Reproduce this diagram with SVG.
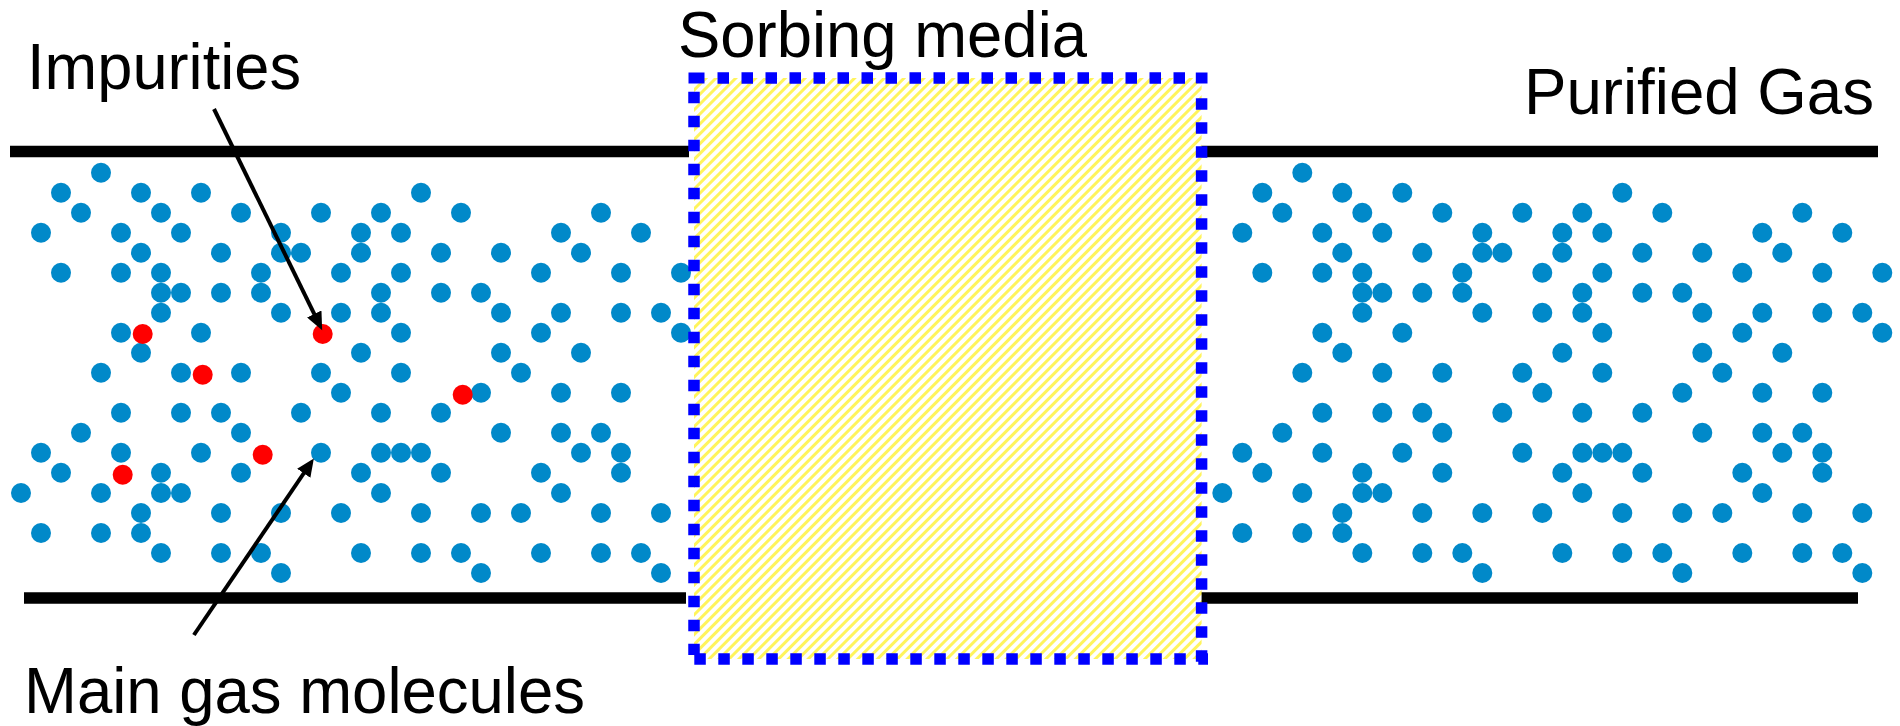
<svg xmlns="http://www.w3.org/2000/svg" width="1900" height="726" viewBox="0 0 1900 726">
  <defs>
    <style>
      .lbl { font-family: "Liberation Sans", Arial, sans-serif; font-size: 64px; fill: #000; }
      .wall { stroke: #000; stroke-width: 11.5; fill: none; }
      .mol { fill: #0189c9; }
      .imp { fill: #ff0000; }
      .edge { stroke: #0000ff; stroke-width: 11.5; stroke-dasharray: 11.5 12.5; fill: none; }
      .corner { fill: #0000ff; }
      .ptr { stroke: #000; stroke-width: 4; fill: none; marker-end: url(#head); }
    </style>
    <!-- diagonal yellow hatching of the sorbent bed -->
    <pattern id="hatch" width="7" height="7" patternUnits="userSpaceOnUse" patternTransform="rotate(45)">
      <rect width="7" height="7" fill="#ffffff"/>
      <rect width="3" height="7" fill="#fff45c"/>
    </pattern>
    <marker id="head" markerUnits="userSpaceOnUse" markerWidth="20" markerHeight="16" refX="1" refY="8" orient="auto" viewBox="0 0 20 16">
      <path d="M0,0 L18,8 L0,16 z" fill="#000"/>
    </marker>
  </defs>

  <rect width="1900" height="726" fill="#ffffff"/>

  <!-- pipe walls -->
  <g id="pipe-walls">
    <line class="wall" x1="10" y1="151.5" x2="689" y2="151.5"/>
    <line class="wall" x1="24" y1="598" x2="686" y2="598"/>
    <line class="wall" x1="1199" y1="151.5" x2="1878" y2="151.5"/>
    <line class="wall" x1="1198" y1="598" x2="1858" y2="598"/>
  </g>

  <!-- main gas molecules entering -->
  <g id="gas-inlet">
    <circle class="mol" r="10" cx="101" cy="172.7"/>
    <circle class="mol" r="10" cx="61" cy="192.7"/><circle class="mol" r="10" cx="141" cy="192.7"/><circle class="mol" r="10" cx="201" cy="192.7"/><circle class="mol" r="10" cx="421" cy="192.7"/>
    <circle class="mol" r="10" cx="81" cy="212.7"/><circle class="mol" r="10" cx="161" cy="212.7"/><circle class="mol" r="10" cx="241" cy="212.7"/><circle class="mol" r="10" cx="321" cy="212.7"/><circle class="mol" r="10" cx="381" cy="212.7"/><circle class="mol" r="10" cx="461" cy="212.7"/><circle class="mol" r="10" cx="601" cy="212.7"/>
    <circle class="mol" r="10" cx="41" cy="232.7"/><circle class="mol" r="10" cx="121" cy="232.7"/><circle class="mol" r="10" cx="181" cy="232.7"/><circle class="mol" r="10" cx="281" cy="232.7"/><circle class="mol" r="10" cx="361" cy="232.7"/><circle class="mol" r="10" cx="401" cy="232.7"/><circle class="mol" r="10" cx="561" cy="232.7"/><circle class="mol" r="10" cx="641" cy="232.7"/>
    <circle class="mol" r="10" cx="141" cy="252.7"/><circle class="mol" r="10" cx="221" cy="252.7"/><circle class="mol" r="10" cx="281" cy="252.7"/><circle class="mol" r="10" cx="301" cy="252.7"/><circle class="mol" r="10" cx="361" cy="252.7"/><circle class="mol" r="10" cx="441" cy="252.7"/><circle class="mol" r="10" cx="501" cy="252.7"/><circle class="mol" r="10" cx="581" cy="252.7"/>
    <circle class="mol" r="10" cx="61" cy="272.7"/><circle class="mol" r="10" cx="121" cy="272.7"/><circle class="mol" r="10" cx="161" cy="272.7"/><circle class="mol" r="10" cx="261" cy="272.7"/><circle class="mol" r="10" cx="341" cy="272.7"/><circle class="mol" r="10" cx="401" cy="272.7"/><circle class="mol" r="10" cx="541" cy="272.7"/><circle class="mol" r="10" cx="621" cy="272.7"/><circle class="mol" r="10" cx="681" cy="272.7"/>
    <circle class="mol" r="10" cx="161" cy="292.7"/><circle class="mol" r="10" cx="181" cy="292.7"/><circle class="mol" r="10" cx="221" cy="292.7"/><circle class="mol" r="10" cx="261" cy="292.7"/><circle class="mol" r="10" cx="381" cy="292.7"/><circle class="mol" r="10" cx="441" cy="292.7"/><circle class="mol" r="10" cx="481" cy="292.7"/>
    <circle class="mol" r="10" cx="161" cy="312.7"/><circle class="mol" r="10" cx="281" cy="312.7"/><circle class="mol" r="10" cx="341" cy="312.7"/><circle class="mol" r="10" cx="381" cy="312.7"/><circle class="mol" r="10" cx="501" cy="312.7"/><circle class="mol" r="10" cx="561" cy="312.7"/><circle class="mol" r="10" cx="621" cy="312.7"/><circle class="mol" r="10" cx="661" cy="312.7"/>
    <circle class="mol" r="10" cx="121" cy="332.7"/><circle class="mol" r="10" cx="201" cy="332.7"/><circle class="mol" r="10" cx="401" cy="332.7"/><circle class="mol" r="10" cx="541" cy="332.7"/><circle class="mol" r="10" cx="681" cy="332.7"/>
    <circle class="mol" r="10" cx="141" cy="352.7"/><circle class="mol" r="10" cx="361" cy="352.7"/><circle class="mol" r="10" cx="501" cy="352.7"/><circle class="mol" r="10" cx="581" cy="352.7"/>
    <circle class="mol" r="10" cx="101" cy="372.7"/><circle class="mol" r="10" cx="181" cy="372.7"/><circle class="mol" r="10" cx="241" cy="372.7"/><circle class="mol" r="10" cx="321" cy="372.7"/><circle class="mol" r="10" cx="401" cy="372.7"/><circle class="mol" r="10" cx="521" cy="372.7"/>
    <circle class="mol" r="10" cx="341" cy="392.7"/><circle class="mol" r="10" cx="481" cy="392.7"/><circle class="mol" r="10" cx="561" cy="392.7"/><circle class="mol" r="10" cx="621" cy="392.7"/>
    <circle class="mol" r="10" cx="121" cy="412.7"/><circle class="mol" r="10" cx="181" cy="412.7"/><circle class="mol" r="10" cx="221" cy="412.7"/><circle class="mol" r="10" cx="301" cy="412.7"/><circle class="mol" r="10" cx="381" cy="412.7"/><circle class="mol" r="10" cx="441" cy="412.7"/>
    <circle class="mol" r="10" cx="81" cy="432.7"/><circle class="mol" r="10" cx="241" cy="432.7"/><circle class="mol" r="10" cx="501" cy="432.7"/><circle class="mol" r="10" cx="561" cy="432.7"/><circle class="mol" r="10" cx="601" cy="432.7"/>
    <circle class="mol" r="10" cx="41" cy="452.7"/><circle class="mol" r="10" cx="121" cy="452.7"/><circle class="mol" r="10" cx="201" cy="452.7"/><circle class="mol" r="10" cx="321" cy="452.7"/><circle class="mol" r="10" cx="381" cy="452.7"/><circle class="mol" r="10" cx="401" cy="452.7"/><circle class="mol" r="10" cx="421" cy="452.7"/><circle class="mol" r="10" cx="581" cy="452.7"/><circle class="mol" r="10" cx="621" cy="452.7"/>
    <circle class="mol" r="10" cx="61" cy="472.7"/><circle class="mol" r="10" cx="161" cy="472.7"/><circle class="mol" r="10" cx="241" cy="472.7"/><circle class="mol" r="10" cx="361" cy="472.7"/><circle class="mol" r="10" cx="441" cy="472.7"/><circle class="mol" r="10" cx="541" cy="472.7"/><circle class="mol" r="10" cx="621" cy="472.7"/>
    <circle class="mol" r="10" cx="21" cy="493"/><circle class="mol" r="10" cx="101" cy="493"/><circle class="mol" r="10" cx="161" cy="493"/><circle class="mol" r="10" cx="181" cy="493"/><circle class="mol" r="10" cx="381" cy="493"/><circle class="mol" r="10" cx="561" cy="493"/>
    <circle class="mol" r="10" cx="141" cy="513"/><circle class="mol" r="10" cx="221" cy="513"/><circle class="mol" r="10" cx="281" cy="513"/><circle class="mol" r="10" cx="341" cy="513"/><circle class="mol" r="10" cx="421" cy="513"/><circle class="mol" r="10" cx="481" cy="513"/><circle class="mol" r="10" cx="521" cy="513"/><circle class="mol" r="10" cx="601" cy="513"/><circle class="mol" r="10" cx="661" cy="513"/>
    <circle class="mol" r="10" cx="41" cy="533"/><circle class="mol" r="10" cx="101" cy="533"/><circle class="mol" r="10" cx="141" cy="533"/>
    <circle class="mol" r="10" cx="161" cy="553"/><circle class="mol" r="10" cx="221" cy="553"/><circle class="mol" r="10" cx="261" cy="553"/><circle class="mol" r="10" cx="361" cy="553"/><circle class="mol" r="10" cx="421" cy="553"/><circle class="mol" r="10" cx="461" cy="553"/><circle class="mol" r="10" cx="541" cy="553"/><circle class="mol" r="10" cx="601" cy="553"/><circle class="mol" r="10" cx="641" cy="553"/>
    <circle class="mol" r="10" cx="281" cy="573"/><circle class="mol" r="10" cx="481" cy="573"/><circle class="mol" r="10" cx="661" cy="573"/>
  </g>

  <!-- impurity molecules mixed into the feed -->
  <g id="impurities">
    <circle class="imp" r="10" cx="142.7" cy="334"/>
    <circle class="imp" r="10" cx="322.7" cy="334"/>
    <circle class="imp" r="10" cx="202.7" cy="374.7"/>
    <circle class="imp" r="10" cx="462.7" cy="394.7"/>
    <circle class="imp" r="10" cx="262.7" cy="454.7"/>
    <circle class="imp" r="10" cx="122.7" cy="474.7"/>
  </g>

  <!-- same gas after the bed, impurities removed -->
  <g id="gas-outlet">
    <use href="#gas-inlet" transform="translate(1201.3,0)"/>
  </g>

  <!-- sorbent bed -->
  <g id="sorbing-media">
    <rect x="694" y="78" width="507.6" height="581" fill="url(#hatch)"/>
    <line class="edge" x1="717.5" y1="78" x2="1185.5" y2="78"/>
    <line class="edge" x1="694.3" y1="659" x2="1208" y2="659"/>
    <line class="edge" x1="694" y1="91.7" x2="694" y2="655"/>
    <line class="edge" x1="1201.6" y1="98.3" x2="1201.6" y2="664"/>
    <rect class="corner" x="688.5" y="72.5" width="16" height="11"/>
    <rect class="corner" x="1195.8" y="72.5" width="11.7" height="11"/>
  </g>

  <!-- labels -->
  <g id="labels">
    <text class="lbl" x="27" y="89" textLength="274" lengthAdjust="spacingAndGlyphs">Impurities</text>
    <text class="lbl" x="678" y="57" textLength="409" lengthAdjust="spacingAndGlyphs">Sorbing media</text>
    <text class="lbl" x="1524" y="114" textLength="350" lengthAdjust="spacingAndGlyphs">Purified Gas</text>
    <text class="lbl" x="24" y="713" textLength="561" lengthAdjust="spacingAndGlyphs">Main gas molecules</text>
  </g>

  <!-- pointer arrows -->
  <g id="connectors">
    <line class="ptr" x1="214" y1="109" x2="314.7" y2="314.9"/>
    <line class="ptr" x1="193.9" y1="635" x2="304.3" y2="472.5"/>
  </g>
</svg>
